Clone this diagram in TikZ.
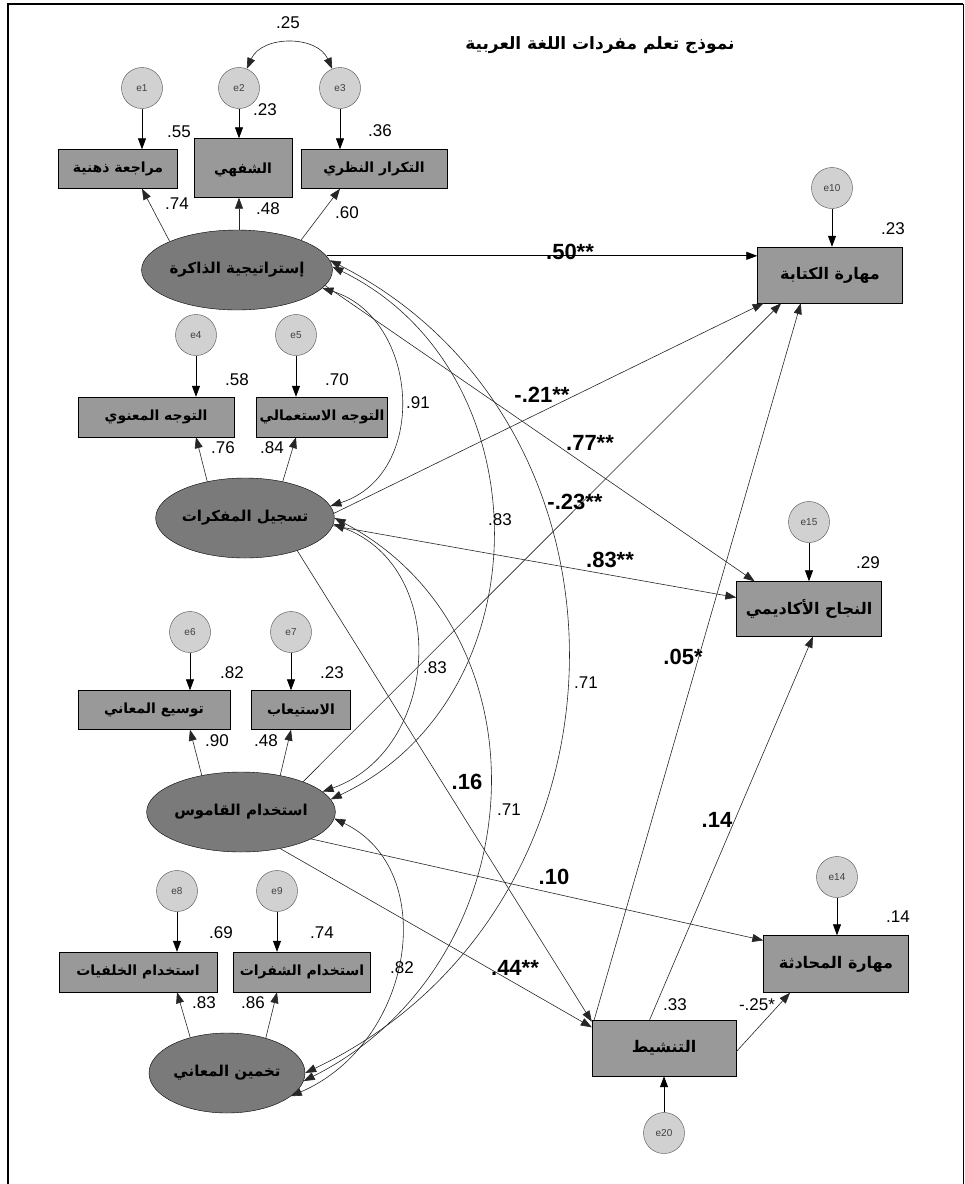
\documentclass[tikz,border=0pt]{standalone}
\usepackage{fontspec}
\setmainfont{Liberation Sans}
\newfontfamily\arabicfont[Script=Arabic]{DejaVu Sans}
\TeXXeTstate=1
\usetikzlibrary{shapes.geometric,arrows.meta}
\definecolor{boxgray}{gray}{0.6}
\definecolor{latgray}{gray}{0.48}
\definecolor{errgray}{gray}{0.82}
\newcommand{\artxt}[1]{{\arabicfont\bfseries\beginR #1\endR}}

\begin{document}
\begin{tikzpicture}[x=1pt,y=-1pt,>={Triangle[length=11pt,width=8pt]},
  box/.style={rectangle,draw=black,fill=boxgray,inner sep=0pt,font=\fontsize{14}{17}\selectfont},
  lat/.style={ellipse,draw=black,fill=latgray,minimum width=156pt,minimum height=80pt,inner sep=0pt,font=\fontsize{15}{18}\selectfont},
  err/.style={circle,draw=black!70,fill=errgray,minimum size=41pt,inner sep=0pt,text=black!75,font=\fontsize{10}{12}\selectfont},
  num/.style={inner sep=0pt,font=\fontsize{17}{20}\selectfont},
  coef/.style={inner sep=0pt,font=\fontsize{22}{26}\selectfont\bfseries},
  reg/.style={->,line width=0.6pt,draw=black!85},
  cov/.style={<->,line width=0.6pt,draw=black!85},
  erra/.style={->,line width=0.8pt}]
\useasboundingbox (0,0) rectangle (965,1184);
\draw[line width=2.5pt] (8,1184) -- (8,4) -- (963,4);
\draw[line width=0.8pt] (963,4) -- (963,1184);
\node[font=\fontsize{17}{20}\selectfont] (title) at (600,45) {\artxt{نموذج تعلم مفردات اللغة العربية}};

% error terms
\node[err] (e1) at (142,88) {e1};
\node[err] (e2) at (239,88) {e2};
\node[err] (e3) at (340,88) {e3};
\node[err] (e4) at (196,335) {e4};
\node[err] (e5) at (296,335) {e5};
\node[err] (e6) at (190,632) {e6};
\node[err] (e7) at (291,632) {e7};
\node[err] (e8) at (177,891) {e8};
\node[err] (e9) at (277,891) {e9};
\node[err] (e10) at (832,188) {e10};
\node[err] (e15) at (809,522) {e15};
\node[err] (e14) at (837,877) {e14};
\node[err] (e20) at (664,1133) {e20};

% observed variables
\node[box,minimum width=119pt,minimum height=39pt] (b1) at (118,169) {\artxt{مراجعة ذهنية}};
\node[box,minimum width=98pt,minimum height=59pt,text depth=-8pt] (b2) at (243,168) {\artxt{الشفهي}};
\node[box,minimum width=146pt,minimum height=39pt] (b3) at (374,169) {\artxt{التكرار النظري}};
\node[box,minimum width=156pt,minimum height=40pt] (b4) at (156,417) {\artxt{التوجه المعنوي}};
\node[box,minimum width=131pt,minimum height=40pt] (b5) at (322,417) {\artxt{التوجه الاستعمالي}};
\node[box,minimum width=152pt,minimum height=39pt] (b6) at (154,710) {\artxt{توسيع المعاني}};
\node[box,minimum width=99pt,minimum height=39pt] (b7) at (301,710) {\artxt{الاستيعاب}};
\node[box,minimum width=158pt,minimum height=40pt] (b8) at (138,972) {\artxt{استخدام الخلفيات}};
\node[box,minimum width=137pt,minimum height=40pt] (b9) at (302,972) {\artxt{استخدام الشفرات}};
\node[box,minimum width=145pt,minimum height=56pt,font=\fontsize{16}{18}\selectfont] (wri) at (830,275) {\artxt{مهارة الكتابة}};
\node[box,minimum width=145pt,minimum height=55pt,font=\fontsize{16}{18}\selectfont] (aca) at (809,609) {\artxt{النجاح الأكاديمي}};
\node[box,minimum width=145pt,minimum height=57pt,font=\fontsize{16}{18}\selectfont] (conv) at (836,964) {\artxt{مهارة المحادثة}};
\node[box,minimum width=144pt,minimum height=56pt,font=\fontsize{16}{18}\selectfont] (act) at (664,1048) {\artxt{التنشيط}};

% latent variables
\node[lat] (mem) at (237,270) {\artxt{إستراتيجية الذاكرة}};
\node[lat] (proc) at (245,518) {\artxt{تسجيل المفكرات}};
\node[lat] (dict) at (241,812) {\artxt{استخدام القاموس}};
\node[lat] (guess) at (227,1073) {\artxt{تخمين المعاني}};

% measurement
\draw[erra] (e1) -- (e1 |- b1.north);
\draw[erra] (e2) -- (e2 |- b2.north);
\draw[erra] (e3) -- (e3 |- b3.north);
\draw[erra] (e4) -- (e4 |- b4.north);
\draw[erra] (e5) -- (e5 |- b5.north);
\draw[erra] (e6) -- (e6 |- b6.north);
\draw[erra] (e7) -- (e7 |- b7.north);
\draw[erra] (e8) -- (e8 |- b8.north);
\draw[erra] (e9) -- (e9 |- b9.north);
\draw[erra] (e10) -- (e10 |- wri.north);
\draw[erra] (e15) -- (e15 |- aca.north);
\draw[erra] (e14) -- (e14 |- conv.north);
\draw[erra] (e20) -- (e20 |- act.south);
\draw[reg] (mem.157) -- (e1 |- b1.south);
\draw[reg] (e2 |- mem.north) -- (e2 |- b2.south);
\draw[reg] (mem.25) -- (e3 |- b3.south);
\draw[reg] (proc.136) -- (e4 |- b4.south);
\draw[reg] (proc.44) -- (e5 |- b5.south);
\draw[reg] (dict.137) -- (e6 |- b6.south);
\draw[reg] (dict.43) -- (e7 |- b7.south);
\draw[reg] (guess.136) -- (e8 |- b8.south);
\draw[reg] (guess.42) -- (e9 |- b9.south);

% covariances
\draw[cov] (e2.68) .. controls (262,35) and (317,35) .. (e3.112);
\draw[cov] (mem.-12) .. controls (419,318) and (430,474) .. (proc.8);
\draw[cov] (mem.2) .. controls (545,370) and (546,698) .. (dict.8);
\draw[cov] (mem.6) .. controls (654,425) and (646,910) .. (guess.0);
\draw[cov] (proc.-4) .. controls (451,568) and (440,750) .. (dict.14);
\draw[cov] (proc.0) .. controls (555,634) and (535,965) .. (guess.-6);
\draw[cov] (dict.-4) .. controls (441,870) and (414,1043) .. (guess.-20);

% structural paths
\draw[reg,draw=black,line width=0.8pt] (mem.9) -- (mem.9 -| wri.west);
\draw[reg] (mem.-10) -- (aca.153);
\draw[reg] (proc.3) -- (wri.203);
\draw[reg] (proc.-5) -- (aca.171);
\draw[reg] (proc.-32) -- (act.160);
\draw[reg] (dict.26) -- (wri.210);
\draw[reg] (dict.-21) -- (conv.162);
\draw[reg] (dict.-43) -- (act.164);
\draw[reg] (act.158) -- (wri.224);
\draw[reg] (act.117) -- (aca.-82);
\draw[reg] (act.-3) -- (conv.212);

% estimates
\node[num] (c1) at (288,23) {.25};
\node[num] (r1) at (179,132) {.55};
\node[num] (r2) at (265,110) {.23};
\node[num] (r3) at (380,131) {.36};
\node[num] (l1) at (177,204) {.74};
\node[num] (l2) at (268,209) {.48};
\node[num] (l3) at (347,213) {.60};
\node[num] (r4) at (237,380) {.58};
\node[num] (r5) at (337,380) {.70};
\node[num] (l4) at (223,448) {.76};
\node[num] (l5) at (272,448) {.84};
\node[num] (r6) at (232,673) {.82};
\node[num] (r7) at (332,673) {.23};
\node[num] (l6) at (217,741) {.90};
\node[num] (l7) at (266,741) {.48};
\node[num] (r8) at (221,933) {.69};
\node[num] (r9) at (322,933) {.74};
\node[num] (l8) at (204,1003) {.83};
\node[num] (l9) at (253,1003) {.86};
\node[num] (c2) at (418,403) {.91};
\node[num] (c3) at (500,520) {.83};
\node[num] (c4) at (586,683) {.71};
\node[num] (c5) at (435,668) {.83};
\node[num] (c6) at (509,810) {.71};
\node[num] (c7) at (402,968) {.82};
\node[num] (r10) at (893,229) {.23};
\node[num] (r15) at (868,563) {.29};
\node[num] (r14) at (898,917) {.14};
\node[num] (r20) at (675,1005) {.33};
\node[num] (p11) at (757,1005) {-.25*};
\node[coef] (p1) at (570,252) {.50**};
\node[coef] (p2) at (590,443) {.77**};
\node[coef] (p3) at (542,395) {-.21**};
\node[coef] (p4) at (610,560) {.83**};
\node[coef] (p5) at (467,782) {.16};
\node[coef] (p6) at (575,502) {-.23**};
\node[coef] (p7) at (554,877) {.10};
\node[coef] (p8) at (515,968) {.44**};
\node[coef] (p9) at (683,657) {.05*};
\node[coef] (p10) at (717,820) {.14};
\end{tikzpicture}
\end{document}
